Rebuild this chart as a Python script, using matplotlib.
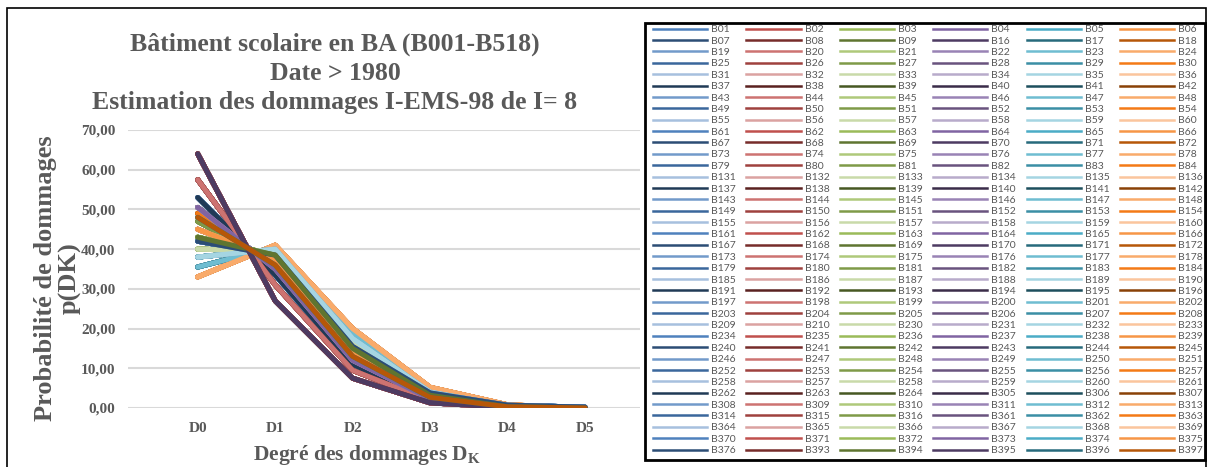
import matplotlib.pyplot as plt
from matplotlib.lines import Line2D
from matplotlib.patches import Rectangle

degrees = ["D0", "D1", "D2", "D3", "D4", "D5"]

# distinct damage distributions p(Dk) in %
profiles = [
    [64.0, 27.0, 7.5, 1.3, 0.2, 0.0],
    [57.5, 31.0, 9.5, 1.8, 0.2, 0.0],
    [53.0, 33.5, 11.0, 2.2, 0.3, 0.0],
    [50.5, 35.0, 12.0, 2.3, 0.2, 0.0],
    [49.0, 35.5, 12.5, 2.7, 0.3, 0.0],
    [48.0, 36.0, 13.0, 2.7, 0.3, 0.0],
    [47.0, 36.5, 13.5, 2.7, 0.3, 0.0],
    [45.0, 37.5, 14.3, 2.9, 0.3, 0.0],
    [43.0, 38.5, 15.0, 3.2, 0.3, 0.0],
    [42.0, 38.5, 15.5, 3.8, 0.7, 0.2],
    [40.0, 39.5, 16.5, 3.7, 0.3, 0.0],
    [38.0, 40.0, 17.5, 4.0, 0.5, 0.0],
    [35.5, 40.5, 18.8, 4.6, 0.6, 0.0],
    [33.0, 41.0, 20.0, 5.2, 0.8, 0.0],
]

# building names as listed in the legend (row by row)
buildings = """
B01 B02 B03 B04 B05 B06
B07 B08 B09 B16 B17 B18
B19 B20 B21 B22 B23 B24
B25 B26 B27 B28 B29 B30
B31 B32 B33 B34 B35 B36
B37 B38 B39 B40 B41 B42
B43 B44 B45 B46 B47 B48
B49 B50 B51 B52 B53 B54
B55 B56 B57 B58 B59 B60
B61 B62 B63 B64 B65 B66
B67 B68 B69 B70 B71 B72
B73 B74 B75 B76 B77 B78
B79 B80 B81 B82 B83 B84
B131 B132 B133 B134 B135 B136
B137 B138 B139 B140 B141 B142
B143 B144 B145 B146 B147 B148
B149 B150 B151 B152 B153 B154
B155 B156 B157 B158 B159 B160
B161 B162 B163 B164 B165 B166
B167 B168 B169 B170 B171 B172
B173 B174 B175 B176 B177 B178
B179 B180 B181 B182 B183 B184
B185 B186 B187 B188 B189 B190
B191 B192 B193 B194 B195 B196
B197 B198 B199 B200 B201 B202
B203 B204 B205 B206 B207 B208
B209 B210 B230 B231 B232 B233
B234 B235 B236 B237 B238 B239
B240 B241 B242 B243 B244 B245
B246 B247 B248 B249 B250 B251
B252 B253 B254 B255 B256 B257
B258 B257 B258 B259 B260 B261
B262 B263 B264 B305 B306 B307
B308 B309 B310 B311 B312 B313
B314 B315 B316 B361 B362 B363
B364 B365 B366 B367 B368 B369
B370 B371 B372 B373 B374 B375
B376 B393 B394 B395 B396 B397
""".split()

# which distribution each building follows (same order as above)
profile_of = [
    9, 1, 6, 0, 12, 13,
    2, 1, 8, 3, 11, 4,
    9, 1, 10, 3, 12, 13,
    5, 0, 6, 3, 11, 7,
    9, 1, 10, 0, 12, 13,
    2, 1, 8, 3, 11, 4,
    9, 7, 10, 3, 12, 13,
    5, 0, 6, 0, 11, 7,
    9, 1, 10, 3, 12, 13,
    2, 1, 8, 0, 11, 4,
    9, 1, 6, 3, 12, 7,
    5, 0, 10, 3, 11, 13,
    9, 1, 8, 0, 12, 4,
    2, 1, 10, 3, 11, 13,
    9, 7, 6, 3, 12, 7,
    5, 0, 8, 0, 11, 4,
    9, 1, 10, 3, 12, 13,
    2, 1, 6, 3, 11, 7,
    9, 1, 8, 0, 12, 4,
    5, 0, 10, 3, 11, 13,
    9, 1, 6, 3, 12, 7,
    2, 1, 8, 0, 11, 4,
    9, 7, 10, 3, 12, 13,
    5, 0, 6, 3, 11, 7,
    9, 1, 8, 0, 12, 4,
    2, 1, 10, 3, 11, 13,
    9, 1, 6, 3, 12, 7,
    5, 0, 8, 0, 11, 4,
    9, 1, 10, 3, 12, 13,
    2, 1, 6, 3, 11, 7,
    9, 7, 8, 0, 12, 4,
    5, 0, 10, 3, 11, 13,
    2, 1, 6, 3, 12, 4,
    9, 1, 10, 0, 12, 13,
    9, 0, 6, 3, 11, 4,
    11, 0, 10, 3, 11, 7,
    9, 0, 8, 3, 5, 7,
    9, 0, 8, 0, 5, 5,
]

# excel 2010 style colour cycle: one row of 6 per shade
shades = {
    "base":   ["#4F81BD", "#C0504D", "#9BBB59", "#8064A2", "#4BACC6", "#F79646"],
    "dark":   ["#2C4D75", "#772C2A", "#5F7530", "#4D3B62", "#276A7C", "#B65708"],
    "light":  ["#729ACA", "#CD7371", "#AFC97A", "#9983B5", "#6FBDD1", "#F9AB6B"],
    "medium": ["#3A679C", "#9F413E", "#7F9A48", "#69537E", "#3B8FA5", "#F47A16"],
    "vlight": ["#A7C0DE", "#DBA2A1", "#C9DAA9", "#B8ABCB", "#A5D5E2", "#FBC59D"],
    "vdark":  ["#203A56", "#5A2120", "#475822", "#3A2C49", "#1D4F5D", "#894106"],
}
shade_cycle = ["base", "dark", "light", "medium", "vlight", "vdark", "light", "medium", "vlight"]

grey = "#595959"
serif = "Liberation Serif"

fig = plt.figure(figsize=(12.08, 4.67), dpi=100)
ax = fig.add_axes([128 / 1208, 1 - 408 / 467, 512 / 1208, 278 / 467])

colors = []
for i, name in enumerate(buildings):
    row, col = divmod(i, 6)
    c = shades[shade_cycle[row % 9]][col]
    colors.append(c)
    ax.plot(degrees, profiles[profile_of[i]], color=c, lw=3.6,
            solid_capstyle="round", solid_joinstyle="round")

ax.set_xlim(-0.9, 5.71)
ax.set_ylim(0, 70)
ax.set_yticks(range(0, 71, 10))
ax.set_yticklabels(["{:.2f}".format(v).replace(".", ",") for v in range(0, 71, 10)])
ax.grid(axis="y", color="#D9D9D9", lw=1.5)
ax.set_axisbelow(True)
for s in ax.spines.values():
    s.set_visible(False)
ax.tick_params(length=0, colors=grey, labelsize=11, pad=9)
for lab in ax.get_xticklabels() + ax.get_yticklabels():
    lab.set_fontfamily(serif)
    lab.set_fontweight("bold")
ax.tick_params(axis="x", pad=10)

fig.text(335 / 1208, 1 - 73 / 467,
         "Bâtiment scolaire en BA (B001-B518)\nDate > 1980\nEstimation des dommages I-EMS-98 de I= 8",
         ha="center", va="center", fontsize=18.5, fontweight="bold", color=grey,
         family=serif, linespacing=1.34)
fig.text(58 / 1208, 1 - 278 / 467, "Probabilité de dommages\np(DK)",
         rotation=90, ha="center", va="center", fontsize=19, fontweight="bold",
         color=grey, family=serif, linespacing=1.08)
fig.text(367 / 1208, 1 - 455 / 467, "Degré des dommages D$_\\mathregular{K}$",
         ha="center", va="center", fontsize=15.5, fontweight="bold", color=grey,
         family=serif)

# outer chart frame and legend box
fig.add_artist(Rectangle((7 / 1208, -0.1), 1199 / 1208, 1.1 - 8 / 467,
                         transform=fig.transFigure, fill=False, ec="black", lw=1.2))
fig.add_artist(Rectangle((645 / 1208, 1 - 460 / 467), 560 / 1208, 437 / 467,
                         transform=fig.transFigure, fill=False, ec="black", lw=2))

handles = [Line2D([], [], color=c, lw=1.8) for c in colors]
nrow = len(buildings) // 6
order = [r * 6 + c for c in range(6) for r in range(nrow)]
leg = fig.legend([handles[k] for k in order], [buildings[k] for k in order],
                 ncol=6, loc="upper left", mode="expand",
                 bbox_to_anchor=(653 / 1208, 1 - 458 / 467, 550 / 1208, 433 / 467),
                 frameon=False, prop={"family": "Lato", "size": 7.5},
                 handlelength=5.2, handletextpad=0.4, labelspacing=0.2,
                 borderaxespad=0, borderpad=0)
for t in leg.get_texts():
    t.set_color(grey)

fig.savefig("out.png", dpi=100)
